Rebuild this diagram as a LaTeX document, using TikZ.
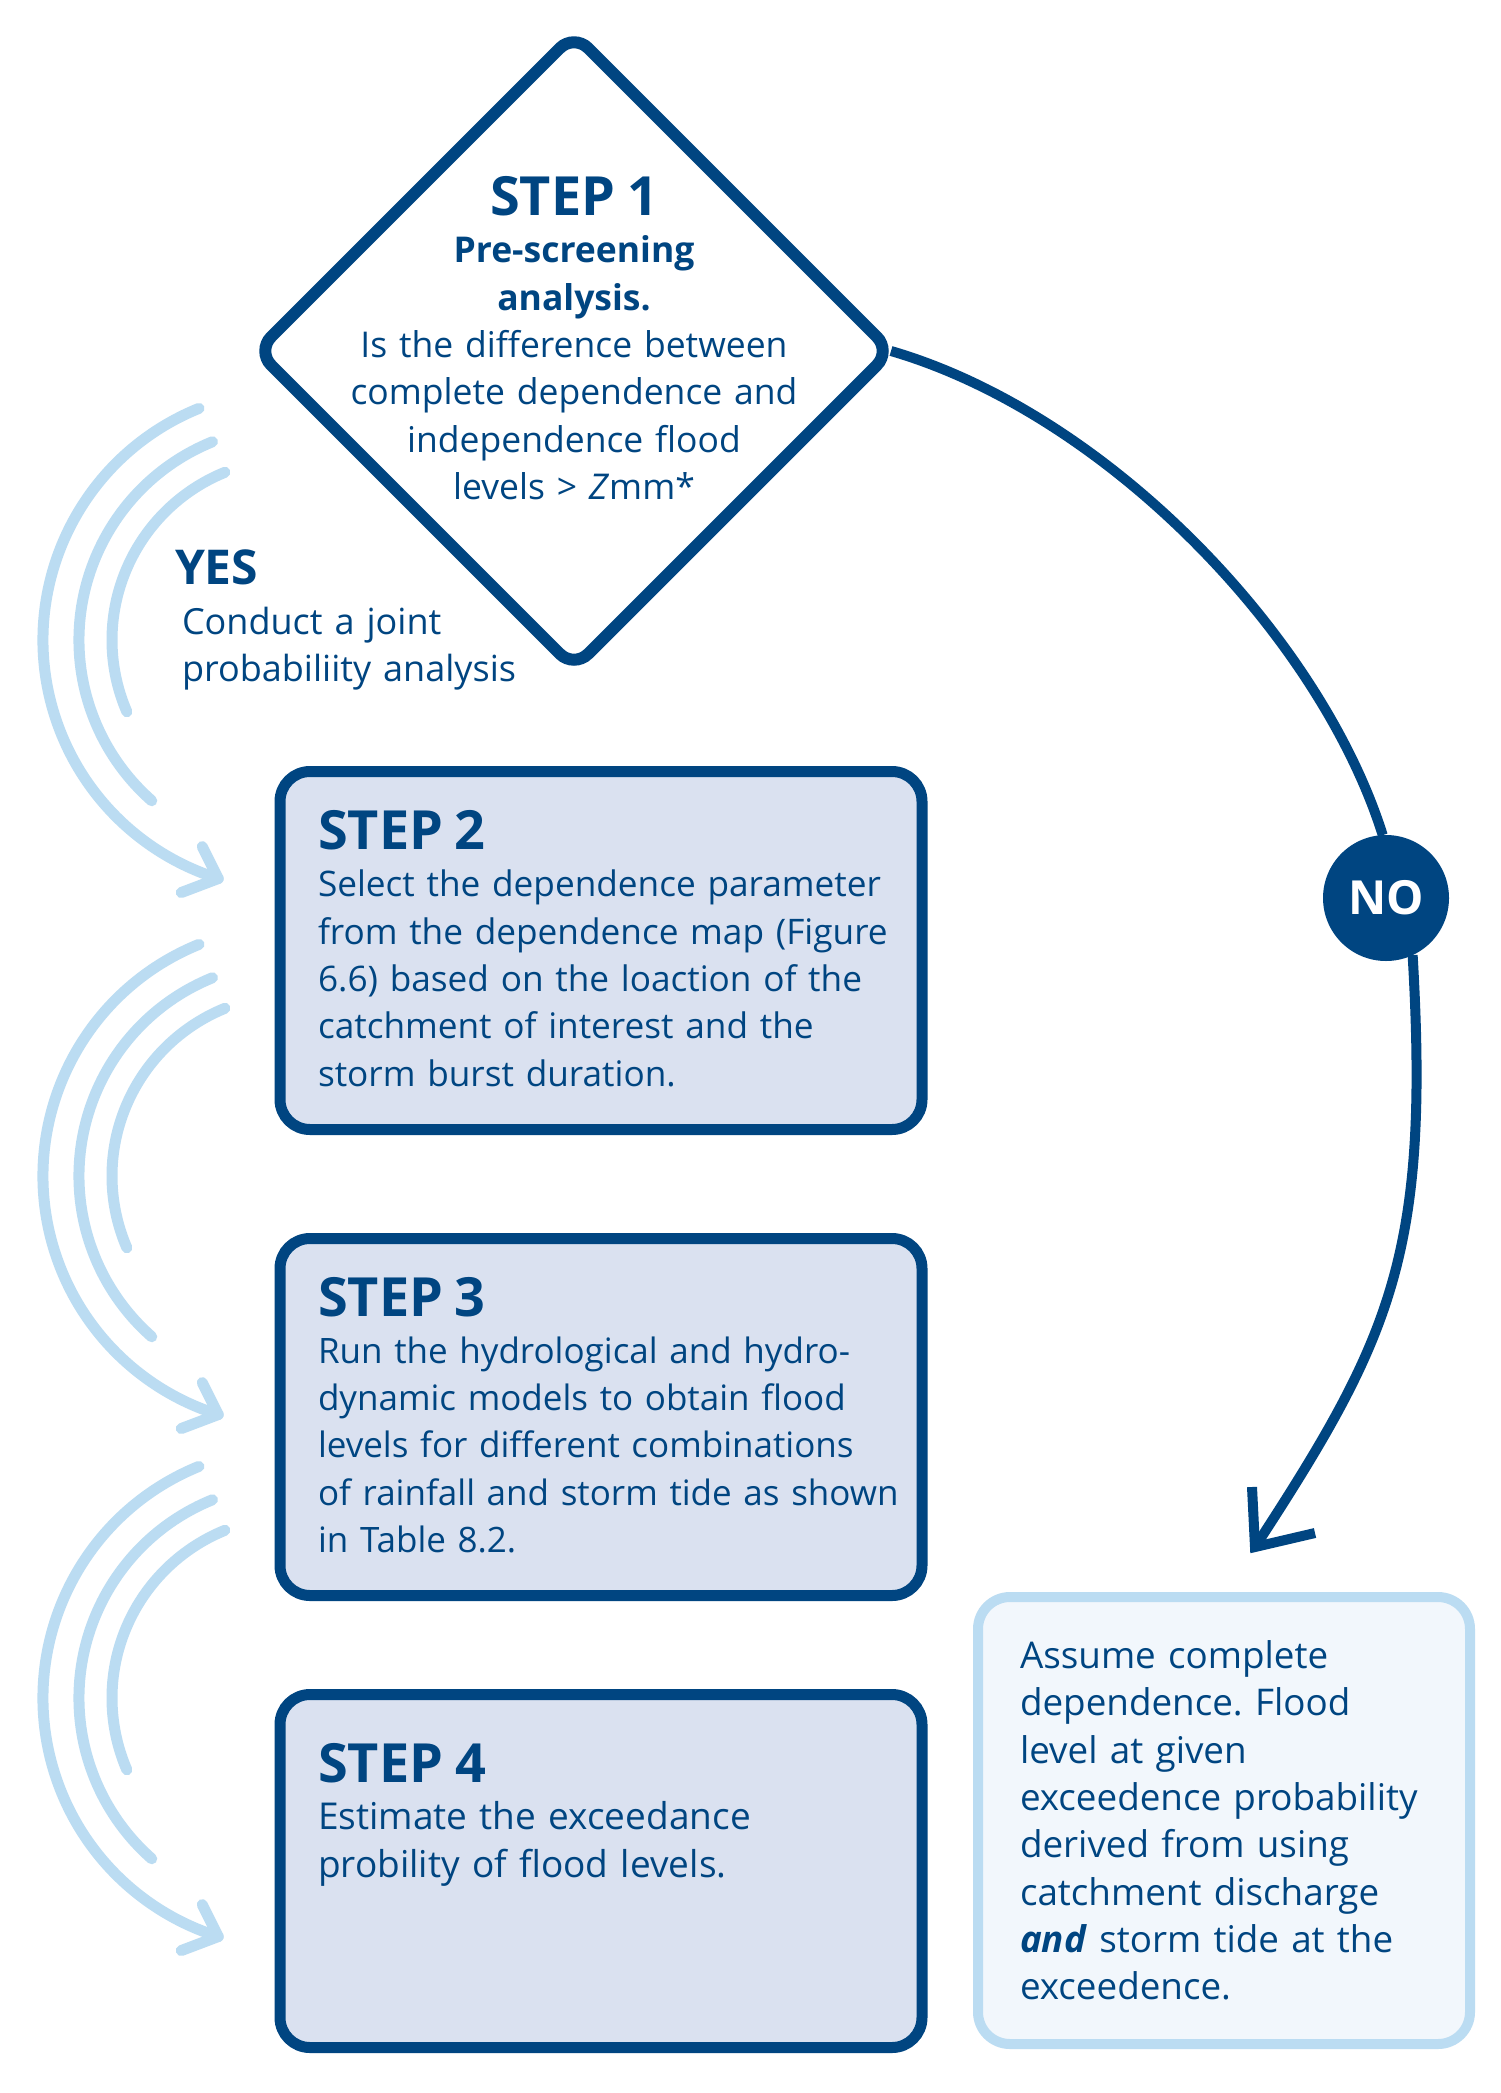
\documentclass[tikz,border=0pt]{standalone}
\usepackage{fontspec}
\setmainfont{Open Sans}
\frenchspacing
\usetikzlibrary{shapes.geometric}
\definecolor{dblue}{RGB}{0,69,129}
\definecolor{lblue}{RGB}{187,220,242}
\definecolor{stepfill}{RGB}{218,225,240}
\definecolor{notefill}{RGB}{242,247,252}
\tikzset{
  stepbox/.style={rectangle, draw=dblue, fill=stepfill, line width=11pt, rounded corners=30pt,
    minimum width=642pt, inner sep=0pt, outer sep=0pt},
  notebox/.style={rectangle, draw=lblue, fill=notefill, line width=10pt, rounded corners=32pt,
    minimum width=492pt, minimum height=447pt, inner sep=0pt, outer sep=0pt},
  decision/.style={diamond, aspect=1, draw=dblue, fill=white, line width=12pt, rounded corners=20pt,
    minimum width=634pt, minimum height=634pt, inner sep=0pt, outer sep=0pt},
  nocircle/.style={circle, fill=dblue, minimum size=126pt, inner sep=0pt, outer sep=0pt,
    text=white, font=\bfseries\fontsize{47}{47}\selectfont},
  body/.style={text=dblue, font=\fontsize{36}{47.3}\selectfont, inner sep=0pt, outer sep=0pt,
    align=left, anchor=base west, text width=#1},
  body/.default=640pt,
  fsize/.style={font=\fontsize{#1}{47.3}\selectfont},
  flowline/.style={draw=dblue, line width=10pt},
  sweep/.style={draw=lblue, line width=11pt, line cap=round, line join=round},
}
\newcommand{\steptitle}[1]{{\fontsize{54}{47.3}\selectfont\bfseries #1}}
\begin{document}
\begin{tikzpicture}[x=1pt,y=-1pt]
\useasboundingbox (0,0) rectangle (1500,2093);
\fill[white] (0,0) rectangle (1500,2093);

% light-blue sweeping arrows on the left
\foreach \cy [count=\i] in {640,1176,1698} {
  \coordinate (g\i) at (293,\cy);
  \draw[sweep] (g\i) ++(247.9:250) arc[start angle=247.9, end angle=107.4, radius=250] coordinate (t\i);
  \draw[sweep] (g\i) ++(247.9:214) arc[start angle=247.9, end angle=131.3, radius=214];
  \draw[sweep] (g\i) ++(247.9:181) arc[start angle=247.9, end angle=156.6, radius=181];
  \draw[sweep] (t\i) ++(-16,-32) -- (t\i) -- ++(-37,14);
}

% step boxes
\node[stepbox, minimum height=358pt] (s2) at (601,950.5) {};
\node[stepbox, minimum height=357pt] (s3) at (601,1417) {};
\node[stepbox, minimum height=353pt] (s4) at (601,1871) {};
\node[notebox] (note) at (1224,1820.5) {};

% decision diamond
\node[decision] (dia) at (574,351) {};

% NO circle
\node[nocircle] (no) at (1386,898) {NO};

% connectors
\draw[flowline] (dia.east) .. controls (1107,414) and (1320,636) .. (no.93);
\coordinate (tip) at (1255,1547);
\draw[flowline] (no.-65) .. controls (1430,1253) and (1392,1337) .. (tip);
\draw[flowline, line join=miter] (tip) ++(-3,-60) -- (tip) -- ++(60,-14);

% texts
\node[body=600pt, fsize=35.5, align=center, anchor=base] (t1) at (574,215.5)
  {\steptitle{STEP 1}\\
   \textbf{Pre-screening}\\
   \textbf{analysis.}\\
   Is the difference between\\
   complete dependence and\\
   independence flood\\
   levels > \textit{Z}mm*};

\node[body=200pt] (yes) at (175,584.5) {\fontsize{48}{48}\selectfont\bfseries YES};
\node[body=400pt] (yest) at (182,634) {Conduct a joint\\probabiliity analysis};

\node[body, fsize=35.2] (t2) at (318,849.5)
  {\steptitle{STEP 2}\\
   Select the dependence parameter\\
   from the dependence map (Figure\\
   6.6) based on the loaction of the\\
   catchment of interest and the\\
   storm burst duration.};

\node[body, fsize=35] (t3) at (318,1316)
  {\steptitle{STEP 3}\\
   Run the hydrological and hydro-\\
   dynamic models to obtain flood\\
   levels for different combinations\\
   of rainfall and storm tide as shown\\
   in Table 8.2.};

\node[body, fsize=37] (t4) at (318,1782.5)
  {\steptitle{STEP 4}\\
   Estimate the exceedance\\
   probility of flood levels.};

\node[body=440pt, fsize=36.8] (tn) at (1020,1668.5)
  {Assume complete\\
   dependence. Flood\\
   level at given\\
   exceedence probability\\
   derived from using\\
   catchment discharge\\
   \textbf{\textit{and}} storm tide at the\\
   exceedence.};
\end{tikzpicture}
\end{document}
